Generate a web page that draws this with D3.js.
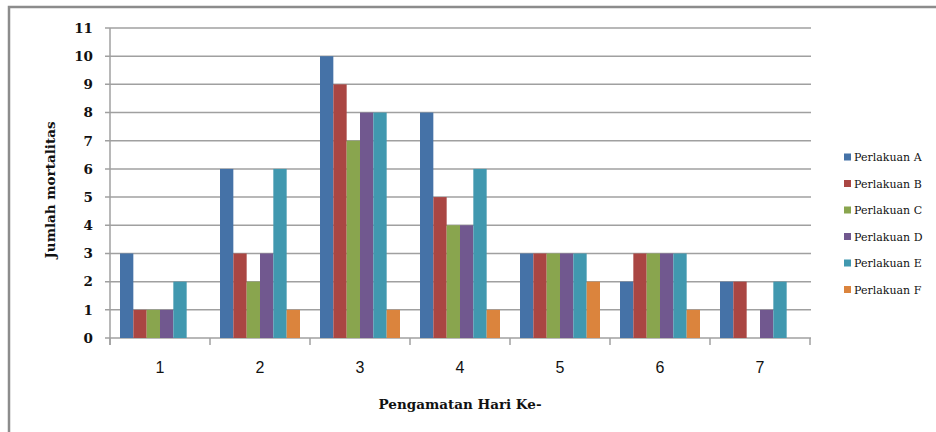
<!DOCTYPE html>
<html><head><meta charset="utf-8">
<script src="https://cdn.jsdelivr.net/npm/d3@7"></script>
<style>body{margin:0;background:#fff}</style>
</head><body>
<script>
const categories = ["1","2","3","4","5","6","7"];
const seriesNames = ["Perlakuan A","Perlakuan B","Perlakuan C","Perlakuan D","Perlakuan E","Perlakuan F"];
const perlakuanA = [3,6,10,8,3,2,2];
const perlakuanB = [1,3,9,5,3,3,2];
const perlakuanC = [1,2,7,4,3,3,0];
const perlakuanD = [1,3,8,4,3,3,1];
const perlakuanE = [2,6,8,6,3,3,2];
const perlakuanF = [0,1,1,1,2,1,0];
const yTicks = [0,1,2,3,4,5,6,7,8,9,10,11];
const colors = ["#4572A7","#AA4643","#89A54E","#71588F","#4198AF","#DB843D"];
const seriesValues = [perlakuanA,perlakuanB,perlakuanC,perlakuanD,perlakuanE,perlakuanF];

(function(){
const W = 936, H = 432;
const svg = d3.select("body").append("svg").attr("width", W).attr("height", H);

svg.append("rect").attr("x", 9).attr("y", 7).attr("width", W + 10).attr("height", H + 10)
  .attr("fill", "none").attr("stroke", "#8c8c8c").attr("stroke-width", 2.5);

const pLeft = 110, pRight = 810, pTop = 28, pBottom = 338;
const x0 = d3.scaleBand().domain(categories).range([pLeft, pRight]).paddingInner(0.2).paddingOuter(0.1);
const x1 = d3.scaleBand().domain(seriesNames).range([0, x0.bandwidth()]);
const y = d3.scaleLinear().domain([0, 11]).range([pBottom, pTop]);

svg.append("g").selectAll("line").data(yTicks).join("line")
  .attr("x1", pLeft - 5).attr("x2", pRight + 1)
  .attr("y1", d => y(d)).attr("y2", d => y(d))
  .attr("stroke", "#a0a0a0").attr("stroke-width", 1.5);

const groups = svg.append("g").selectAll("g").data(categories).join("g")
  .attr("transform", c => `translate(${x0(c)},0)`);
groups.selectAll("rect").data((c, i) => seriesNames.map((s, j) => ({s, j, v: seriesValues[j][i]})))
  .join("rect")
  .attr("x", d => x1(d.s)).attr("width", x1.bandwidth())
  .attr("y", d => y(d.v)).attr("height", d => y(0) - y(d.v))
  .attr("fill", d => colors[d.j]);

const yAxis = svg.append("g").attr("transform", `translate(${pLeft},0)`)
  .call(d3.axisLeft(y).tickValues(yTicks).tickSize(0).tickPadding(17));
yAxis.select(".domain").attr("stroke", "#a0a0a0").attr("stroke-width", 1.5)
  .attr("d", `M0,${pTop}V${pBottom + 7}`);
yAxis.selectAll("text").attr("font-family", "DejaVu Serif, serif").attr("font-weight", "bold")
  .attr("font-size", 13.5).attr("fill", "#111");

const xAxis = svg.append("g").attr("transform", `translate(0,${pBottom})`)
  .call(d3.axisBottom(x0).tickSize(0).tickPadding(24));
xAxis.select(".domain").remove();
xAxis.selectAll("text").attr("font-family", "Liberation Sans, sans-serif")
  .attr("font-size", 16).attr("fill", "#111");
const edges = d3.range(categories.length + 1).map(i => pLeft + i * x0.step());
svg.append("g").selectAll("line").data(edges).join("line")
  .attr("x1", d => d).attr("x2", d => d).attr("y1", pBottom).attr("y2", pBottom + 7)
  .attr("stroke", "#a0a0a0").attr("stroke-width", 1.5);

svg.append("text").attr("transform", "translate(55,190) rotate(-90)")
  .attr("text-anchor", "middle").attr("font-family", "DejaVu Serif, serif")
  .attr("font-weight", "bold").attr("font-size", 13.5).attr("fill", "#111")
  .text("Jumlah mortalitas");
svg.append("text").attr("x", 460).attr("y", 409)
  .attr("text-anchor", "middle").attr("font-family", "DejaVu Serif, serif")
  .attr("font-weight", "bold").attr("font-size", 13.5).attr("fill", "#111")
  .text("Pengamatan Hari Ke-");

const leg = svg.append("g").selectAll("g").data(seriesNames).join("g")
  .attr("transform", (d, i) => `translate(844,${157 + i * 26.5})`);
leg.append("rect").attr("x", 0).attr("y", -3.5).attr("width", 7).attr("height", 7)
  .attr("fill", (d, i) => colors[i]);
leg.append("text").attr("x", 10).attr("y", 4).attr("font-family", "DejaVu Serif, serif")
  .attr("font-size", 11).attr("fill", "#111").text(d => d);
})();
</script>
</body></html>
